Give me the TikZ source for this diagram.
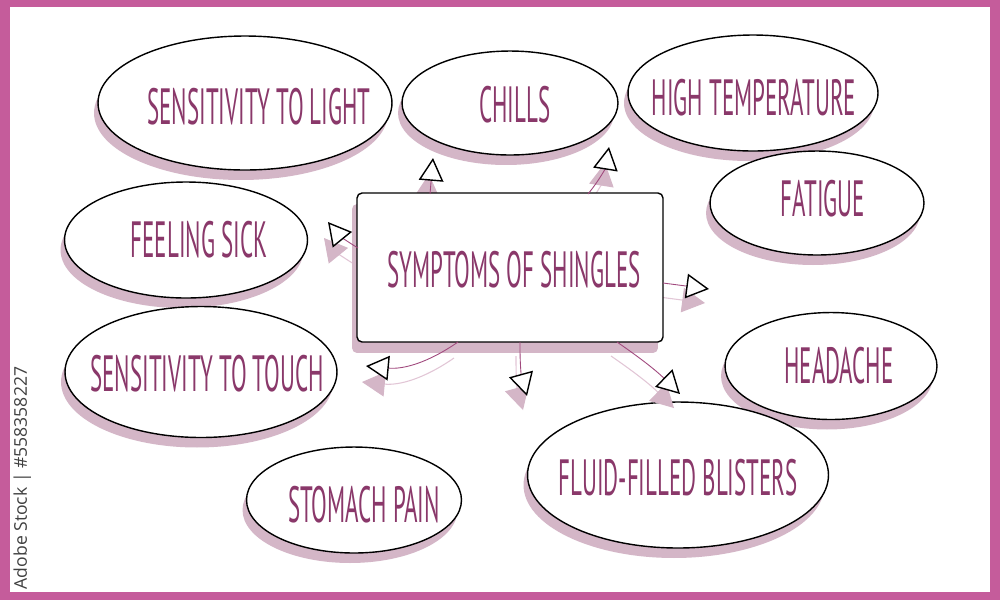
\documentclass[tikz,border=0pt]{standalone}
\usepackage{fontspec}
\newfontfamily\handfont{PT Sans}[FakeStretch=0.45]
\newfontfamily\stockfont{Open Sans}
\usetikzlibrary{arrows.meta,shapes.geometric,shadows}

\definecolor{framec}{RGB}{197,92,155}
\definecolor{txtc}{RGB}{138,56,106}
\definecolor{shadowc}{RGB}{212,182,199}
\definecolor{linkc}{RGB}{160,72,125}
\definecolor{trailc}{RGB}{226,198,214}

\begin{document}
\begin{tikzpicture}[x=0.02cm, y=-0.02cm,
	bubble/.style={ellipse, draw=black, line width=0.8pt, fill=white, inner sep=0pt,
		drop shadow={shadow xshift=-0.08cm, shadow yshift=-0.2cm, fill=shadowc, opacity=1}},
	topic/.style={rectangle, rounded corners=0.1cm, draw=black, line width=0.8pt, fill=white,
		minimum width=6.12cm, minimum height=2.98cm,
		drop shadow={shadow xshift=-0.1cm, shadow yshift=-0.22cm, fill=shadowc, opacity=1}},
	lbl/.style={anchor=base, inner sep=0pt, text=txtc, font=\handfont\fontsize{29}{32}\selectfont},
	link/.style={draw=linkc, line width=0.5pt,
		-{Triangle[length=13pt, width=14pt, color=black, fill=white, line width=0.8pt]}},
	trail/.style={draw=trailc, line width=0.6pt, -{Triangle[length=13pt, width=14pt, color=shadowc]}}]
	\useasboundingbox (0,0) rectangle (1000,600);
	\fill[framec] (0,0) rectangle (1000,600);
	\fill[white] (10,7) rectangle (990,592);

	% bubbles
	\node[bubble, minimum width=5.88cm, minimum height=2.68cm] (light) at (245,103) {};
	\node[bubble, minimum width=4.32cm, minimum height=2.08cm] (chills) at (510,103) {};
	\node[bubble, minimum width=5.0cm, minimum height=2.32cm] (temp) at (753,93) {};
	\node[bubble, minimum width=4.28cm, minimum height=2.08cm] (fatigue) at (817,203) {};
	\node[bubble, minimum width=4.86cm, minimum height=2.32cm] (sick) at (186,240) {};
	\node[bubble, minimum width=5.44cm, minimum height=2.62cm] (touch) at (201,372) {};
	\node[bubble, minimum width=4.24cm, minimum height=2.14cm] (headache) at (831,366) {};
	\node[bubble, minimum width=4.3cm, minimum height=2.12cm] (stomach) at (354,500) {};
	\node[bubble, minimum width=6.02cm, minimum height=2.92cm] (blisters) at (678,475) {};

	\node[lbl] (light-t) at (259,124) {SENSITIVITY TO LIGHT};
	\node[lbl] (chills-t) at (515,122) {CHILLS};
	\node[lbl] (temp-t) at (754,115) {HIGH TEMPERATURE};
	\node[lbl] (fatigue-t) at (823,216) {FATIGUE};
	\node[lbl] (sick-t) at (199,257) {FEELING SICK};
	\node[lbl] (touch-t) at (207,391) {SENSITIVITY TO TOUCH};
	\node[lbl] (headache-t) at (839,383) {HEADACHE};
	\node[lbl] (stomach-t) at (364,522) {STOMACH PAIN};
	\node[lbl] (blisters-t) at (678,495) {FLUID-FILLED BLISTERS};

	% arrow ends
	\coordinate (a1s) at (430,194); \coordinate (a1e) at (433,158);
	\coordinate (a2s) at (588,194); \coordinate (a2e) at (609,147);
	\coordinate (a3s) at (358,248); \coordinate (a3e) at (328,222);
	\coordinate (a4s) at (663,283); \coordinate (a4e) at (709,289);
	\coordinate (a5s) at (458,342); \coordinate (a5e) at (366,366);
	\coordinate (a6s) at (520,342); \coordinate (a6e) at (527,396);
	\coordinate (a7s) at (617,342); \coordinate (a7e) at (680,394);

	% arrow shadows
	\draw[trail] ([shift={(-4,16)}]a1s) -- ([shift={(-4,16)}]a1e);
	\draw[trail] ([shift={(-4,16)}]a2s) to[bend right=15] ([shift={(-4,16)}]a2e);
	\draw[trail] ([shift={(-4,16)}]a3s) to[bend left=10] ([shift={(-4,16)}]a3e);
	\draw[trail] ([shift={(-4,14)}]a4s) -- ([shift={(-4,14)}]a4e);
	\draw[trail] ([shift={(-4,16)}]a5s) to[bend left=20] ([shift={(-4,16)}]a5e);
	\draw[trail] ([shift={(-4,14)}]a6s) to[bend right=8] ([shift={(-4,14)}]a6e);
	\draw[trail] ([shift={(-6,14)}]a7s) to[bend left=5] ([shift={(-6,14)}]a7e);

	\node[topic] (sym) at (510,267.5) {};
	\node[lbl] (sym-t) at (514,287) {SYMPTOMS OF SHINGLES};

	\draw[link] (a1s) -- (a1e);
	\draw[link] (a2s) to[bend right=15] (a2e);
	\draw[link] (a3s) to[bend left=10] (a3e);
	\draw[link] (a4s) -- (a4e);
	\draw[link] (a5s) to[bend left=20] (a5e);
	\draw[link] (a6s) to[bend right=8] (a6e);
	\draw[link] (a7s) to[bend left=5] (a7e);

	\node[anchor=base, rotate=90, inner sep=0pt, text=black!75, font=\stockfont\fontsize{10}{12}\selectfont]
		(stock) at (27,478) {Adobe Stock | \#558358227};
\end{tikzpicture}
\end{document}
